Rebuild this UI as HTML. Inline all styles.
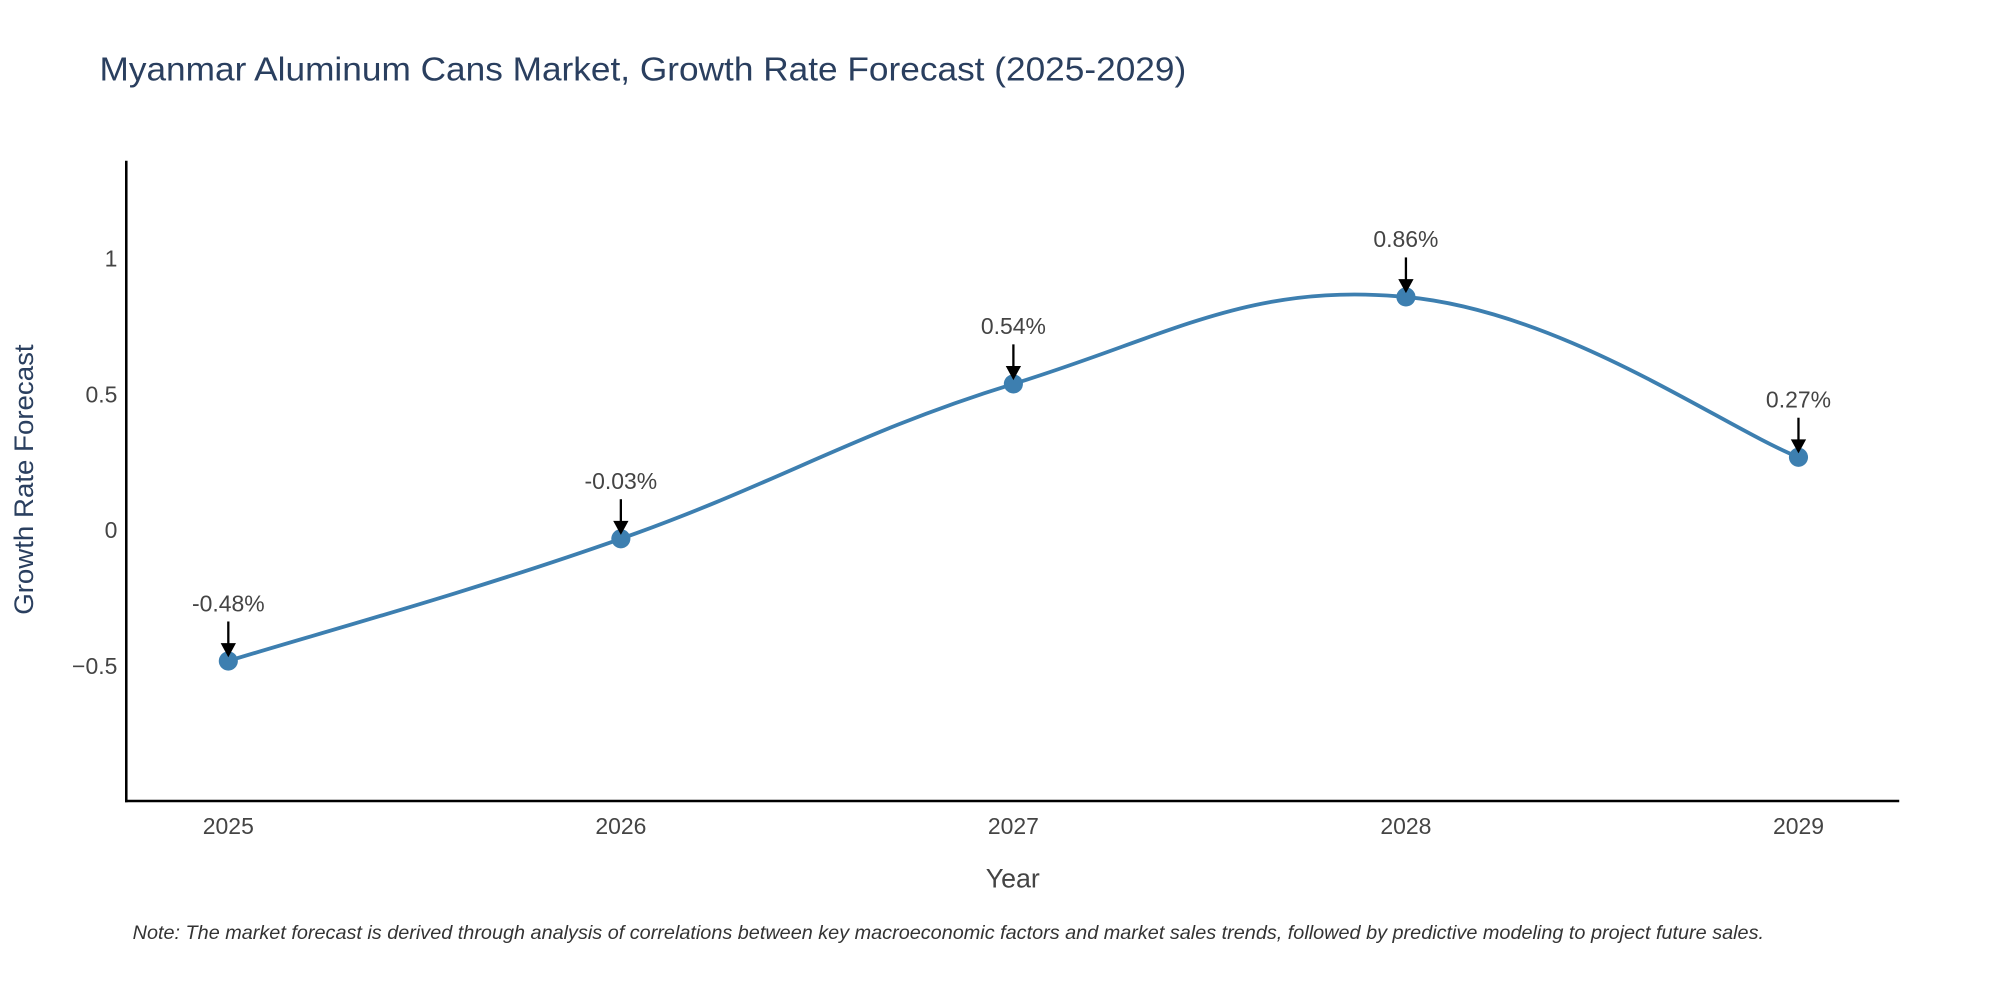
<!DOCTYPE html>
<html><head><meta charset="utf-8"><style>
html,body{margin:0;padding:0;background:#fff;}
svg{display:block;font-family:"Liberation Sans",sans-serif;}
</style></head><body>
<svg id="chart" width="2000" height="1000" viewBox="0 0 1568 784" preserveAspectRatio="none" xmlns="http://www.w3.org/2000/svg">
<rect width="1568" height="784" fill="#fff"/>
<text x="78" y="63" font-size="26" fill="#2a3f5f" textLength="852" lengthAdjust="spacingAndGlyphs">Myanmar Aluminum Cans Market, Growth Rate Forecast (2025-2029)</text>
<g id="yticks"></g>
<g id="xticks"></g>
<line x1="99" y1="126" x2="99" y2="629" stroke="#000" stroke-width="2"/>
<line x1="98" y1="628" x2="1489" y2="628" stroke="#000" stroke-width="2"/>
<text transform="translate(26,376) rotate(-90)" text-anchor="middle" font-size="21" fill="#2a3f5f" textLength="212" lengthAdjust="spacingAndGlyphs">Growth Rate Forecast</text>
<text x="794" y="696" text-anchor="middle" font-size="21" fill="#444">Year</text>
<path id="line" fill="none" stroke="#3d7fb0" stroke-width="3"/>
<g id="points"></g>
<g id="annots"></g>
<text x="104" y="736" font-size="15" font-style="italic" fill="#333" textLength="1279" lengthAdjust="spacingAndGlyphs">Note: The market forecast is derived through analysis of correlations between key macroeconomic factors and market sales trends, followed by predictive modeling to project future sales.</text>
</svg>
<script>
const years = [2025, 2026, 2027, 2028, 2029];
const values = [-0.48, -0.03, 0.54, 0.86, 0.27];
const labels = ["-0.48%", "-0.03%", "0.54%", "0.86%", "0.27%"];
const yTickValues = [-0.5, 0, 0.5, 1];
const yTickLabels = ["\u22120.5", "0", "0.5", "1"];

const NS = "http://www.w3.org/2000/svg";
function xs(y){ return 179 + (y - 2025) * 307.75; }
function ys(v){ return 416 - v * 213; }
function mk(tag, attrs, parent){ const e = document.createElementNS(NS, tag); for (const k in attrs) e.setAttribute(k, attrs[k]); parent.appendChild(e); return e; }

const yt = document.getElementById('yticks');
yTickValues.forEach((v, i) => {
  const t = mk('text', {x: 92, y: ys(v) + 6, 'text-anchor': 'end', 'font-size': 18, fill: '#444'}, yt);
  
  
  t.textContent = yTickLabels[i];
});
const xt = document.getElementById('xticks');
years.forEach(y => {
  const t = mk('text', {x: xs(y), y: 654, 'text-anchor': 'middle', 'font-size': 18, fill: '#444'}, xt);
  
  
  t.textContent = y;
});

const P = years.map((y, i) => [xs(y), ys(values[i])]);
let d = `M${P[0][0]},${P[0][1]}`;
const s = 0.2;
for (let i = 0; i < P.length - 1; i++) {
  const p0 = P[i - 1] || P[i], p1 = P[i], p2 = P[i + 1], p3 = P[i + 2] || P[i + 1];
  const c1 = [p1[0] + (p2[0] - p0[0]) * s, p1[1] + (p2[1] - p0[1]) * s];
  const c2 = [p2[0] - (p3[0] - p1[0]) * s, p2[1] - (p3[1] - p1[1]) * s];
  d += ` C${c1[0]},${c1[1]} ${c2[0]},${c2[1]} ${p2[0]},${p2[1]}`;
}
document.getElementById('line').setAttribute('d', d);

const pts = document.getElementById('points');
const an = document.getElementById('annots');
P.forEach((p, i) => {
  const c = mk('circle', {cx: p[0], cy: p[1], r: 7.5, fill: '#3d7fb0'}, pts);
  
  
  const l = mk('line', {x1: p[0], y1: p[1] - 31, x2: p[0], y2: p[1] - 10, stroke: '#000', 'stroke-width': 1.8}, an);
  
  
  const h = mk('polygon', {points: `${p[0]-6},${p[1]-14} ${p[0]+6},${p[1]-14} ${p[0]},${p[1]-3}`, fill: '#000'}, an);
  
  
  const t = mk('text', {x: p[0], y: p[1] - 39, 'text-anchor': 'middle', 'font-size': 18, fill: '#444'}, an);
  
  
  t.textContent = labels[i];
});
</script>
</body></html>
